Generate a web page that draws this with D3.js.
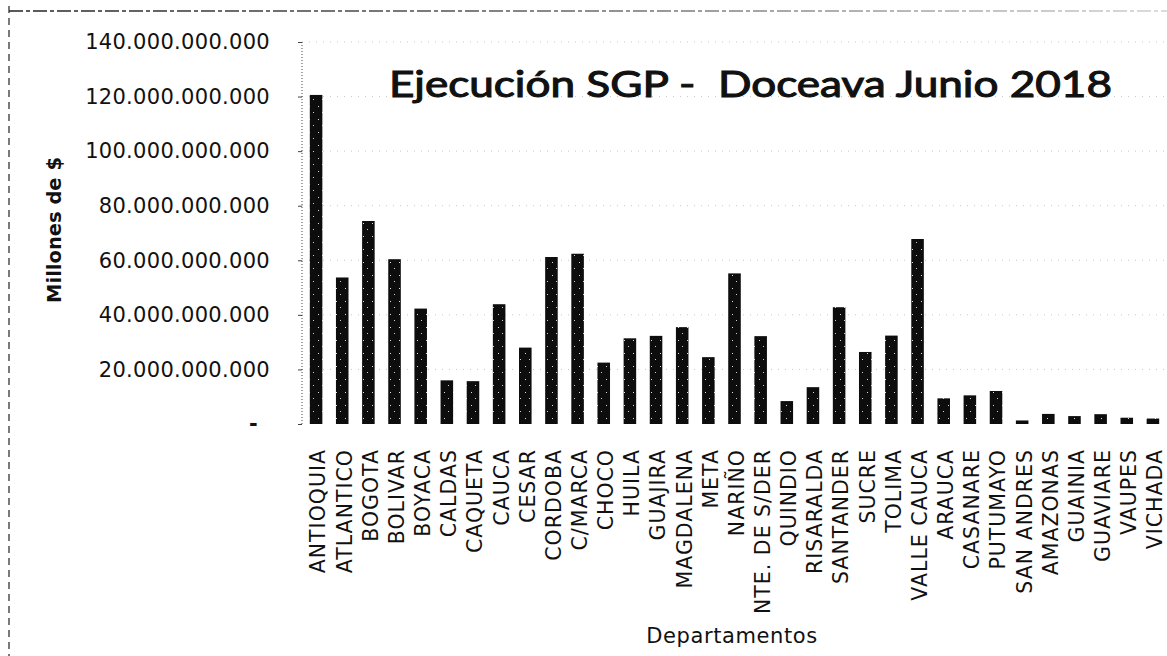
<!DOCTYPE html>
<html>
<head>
<meta charset="utf-8">
<script src="https://cdnjs.cloudflare.com/ajax/libs/d3/7.8.5/d3.min.js"></script>
<style>
  html, body { margin: 0; padding: 0; background: #ffffff; }
  svg { display: block; }
</style>
</head>
<body>
<svg id="chart" width="1167" height="656"></svg>
<script>
// Departamentos (eje X)
const categories = [
  "ANTIOQUIA", "ATLANTICO", "BOGOTA", "BOLIVAR", "BOYACA", "CALDAS", "CAQUETA",
  "CAUCA", "CESAR", "CORDOBA", "C/MARCA", "CHOCO", "HUILA", "GUAJIRA",
  "MAGDALENA", "META", "NARIÑO", "NTE. DE S/DER", "QUINDIO", "RISARALDA",
  "SANTANDER", "SUCRE", "TOLIMA", "VALLE CAUCA", "ARAUCA", "CASANARE",
  "PUTUMAYO", "SAN ANDRES", "AMAZONAS", "GUAINIA", "GUAVIARE", "VAUPES", "VICHADA"
];

// Ejecución SGP por departamento (pesos)
const values = [
  120.6e9, 53.7e9, 74.4e9, 60.4e9, 42.3e9, 16.0e9, 15.7e9,
  43.9e9, 28.0e9, 61.2e9, 62.4e9, 22.5e9, 31.4e9, 32.3e9,
  35.5e9, 24.5e9, 55.2e9, 32.2e9, 8.4e9, 13.5e9,
  42.8e9, 26.4e9, 32.4e9, 67.8e9, 9.4e9, 10.5e9,
  12.1e9, 1.3e9, 3.7e9, 2.9e9, 3.6e9, 2.3e9, 2.0e9
];

// Marcas del eje Y
const yTicks = [0, 20e9, 40e9, 60e9, 80e9, 100e9, 120e9, 140e9];

const titleText = "Ejecución SGP -  Doceava Junio 2018";
const yTitle = "Millones de $";
const xTitle = "Departamentos";

const svg = d3.select("#chart");

// Formato con punto como separador de miles
const locale = d3.formatLocale({ decimal: ",", thousands: ".", grouping: [3], currency: ["$", ""] });
const fmt = locale.format(",.0f");

const x = d3.scaleBand()
  .domain(categories)
  .range([303, 1166])
  .paddingInner(0.52)
  .paddingOuter(0.26);

const y = d3.scaleLinear()
  .domain([0, 140e9])
  .range([424, 42]);

const defs = svg.append("defs");

// Marco punteado exterior
const grad = defs.append("linearGradient").attr("id", "fade")
  .attr("gradientUnits", "userSpaceOnUse")
  .attr("x1", 0).attr("x2", 1167).attr("y1", 0).attr("y2", 0);
grad.append("stop").attr("offset", "0%").attr("stop-color", "#222");
grad.append("stop").attr("offset", "40%").attr("stop-color", "#555");
grad.append("stop").attr("offset", "100%").attr("stop-color", "#d0d0d0");

svg.append("line")
  .attr("x1", 9).attr("x2", 1167).attr("y1", 11).attr("y2", 11)
  .attr("stroke", "url(#fade)").attr("stroke-width", 1.5)
  .attr("stroke-dasharray", "14,3,4,3");
svg.append("line")
  .attr("x1", 9).attr("x2", 9).attr("y1", 6).attr("y2", 656)
  .attr("stroke", "#333").attr("stroke-width", 1.3)
  .attr("stroke-dasharray", "7,5");

// Cuadrícula horizontal tenue
svg.append("g")
  .selectAll("line")
  .data(yTicks.filter(d => d > 0))
  .join("line")
  .attr("x1", 302).attr("x2", 1166)
  .attr("y1", d => y(d)).attr("y2", d => y(d))
  .attr("stroke", "#c8c8c8")
  .attr("stroke-width", 1)
  .attr("stroke-dasharray", "1,6");

// Textura moteada de las barras
const pat = defs.append("pattern").attr("id", "speck")
  .attr("width", 9).attr("height", 13).attr("patternUnits", "userSpaceOnUse");
pat.append("rect").attr("width", 9).attr("height", 13).attr("fill", "#0d0d0d");
pat.append("rect").attr("x", 3).attr("y", 2).attr("width", 1).attr("height", 1).attr("fill", "#e0e0e0");
pat.append("rect").attr("x", 7).attr("y", 8).attr("width", 1).attr("height", 1).attr("fill", "#cfcfcf");

// Barras
svg.append("g")
  .selectAll("rect")
  .data(categories.map((c, i) => ({ c, v: values[i] })))
  .join("rect")
  .attr("x", d => x(d.c))
  .attr("width", x.bandwidth())
  .attr("y", d => y(d.v))
  .attr("height", d => y(0) - y(d.v))
  .attr("fill", "url(#speck)");

// Eje Y
const yAxis = d3.axisLeft(y)
  .tickValues(yTicks)
  .tickSize(4)
  .tickPadding(28)
  .tickFormat(d => d === 0 ? "-" : fmt(d));

const yG = svg.append("g")
  .attr("transform", "translate(302,0)")
  .call(yAxis);
yG.select(".domain")
  .attr("stroke", "#444")
  .attr("stroke-dasharray", "1,2")
  .attr("d", `M0,${y(140e9)}V${y(0)}`);
yG.selectAll(".tick line").attr("stroke", "#444");
yG.selectAll(".tick text")
  .attr("font-family", "DejaVu Sans, Verdana, sans-serif")
  .attr("font-size", 21)
  .attr("letter-spacing", 0.3)
  .attr("fill", "#111");
yG.selectAll(".tick").filter(d => d === 0).select("text")
  .attr("x", -44).attr("font-weight", "bold");

// Etiquetas de departamentos (verticales)
svg.append("g")
  .selectAll("text")
  .data(categories)
  .join("text")
  .attr("transform", d => `translate(${x(d) + x.bandwidth() / 2 + 2},449) rotate(-90)`)
  .attr("text-anchor", "end")
  .attr("dy", "0.36em")
  .attr("font-family", "DejaVu Sans, Verdana, sans-serif")
  .attr("font-size", 20.5)
  .attr("letter-spacing", 1)
  .attr("fill", "#111")
  .text(d => d);

// Título del eje Y
svg.append("text")
  .attr("transform", "translate(61,230) rotate(-90)")
  .attr("text-anchor", "middle")
  .attr("font-family", "DejaVu Sans, Verdana, sans-serif")
  .attr("font-weight", "bold")
  .attr("font-size", 19.5)
  .attr("fill", "#111")
  .text(yTitle);

// Título del eje X
svg.append("text")
  .attr("x", 732).attr("y", 643)
  .attr("text-anchor", "middle")
  .attr("font-family", "DejaVu Sans, Verdana, sans-serif")
  .attr("font-size", 21)
  .attr("letter-spacing", 0.6)
  .attr("fill", "#111")
  .text(xTitle);

// Título principal (ancho ajustado al espacio disponible)
const title = svg.append("text")
  .attr("x", 389).attr("y", 97)
  .attr("xml:space", "preserve")
  .style("white-space", "pre")
  .attr("font-family", "Lato, 'Open Sans', sans-serif")
  .attr("font-size", 37)
  .attr("stroke", "#111")
  .attr("stroke-width", 1.1)
  .attr("fill", "#111")
  .text(titleText);
title.attr("textLength", 723).attr("lengthAdjust", "spacingAndGlyphs");
</script>
</body>
</html>
